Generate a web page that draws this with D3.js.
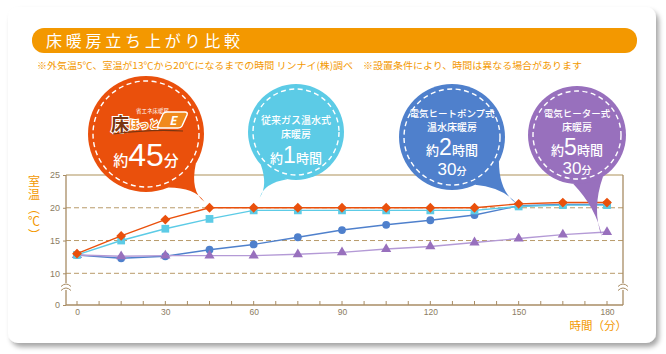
<!DOCTYPE html>
<html>
<head>
<meta charset="utf-8">
<script src="https://cdn.jsdelivr.net/npm/d3@7"></script>
<style>
  body { margin: 0; background: #fff; }
  svg { display: block; font-family: "Noto Sans CJK JP", "Noto Sans", sans-serif; }
</style>
</head>
<body>
<div id="chart"></div>
<script>
// minutes
var times = [0, 15, 30, 45, 60, 75, 90, 105, 120, 135, 150, 165, 180];
var xTicks = [0, 30, 60, 90, 120, 150, 180];
var yTicks = [0, 10, 15, 20, 25];
var gridValues = [10, 15, 20];

// room temperature (℃)
var hotE = [13, 15.7, 18.2, 20, 20, 20, 20, 20, 20, 20, 20.6, 20.8, 20.8];
var gasWater = [12.8, 15.0, 16.8, 18.3, 19.6, 19.6, 19.6, 19.6, 19.6, 19.6, 20.2, 20.4, 20.4];
var heatPump = [12.8, 12.3, 12.6, 13.6, 14.4, 15.5, 16.6, 17.4, 18.1, 18.9, 20.3, 20.5, 20.5];
var elecHeater = [12.8, 12.6, 12.7, 12.7, 12.7, 12.9, 13.2, 13.7, 14.1, 14.7, 15.3, 15.9, 16.3];

var titleText = "床暖房立ち上がり比較";
var noteText = "※外気温5℃、室温が13℃から20℃になるまでの時間 リンナイ(株)調べ　※設置条件により、時間は異なる場合があります";

var W = 666, H = 354;
var orange = "#ea500c", cyan = "#5ccbe6", blue = "#4f80cc", purple = "#9870bd";
var axisCol = "#a88c64", tickText = "#8c7c62", labelCol = "#f39800";
var numFont = "Liberation Sans, Arial, sans-serif";

var svg = d3.select("#chart").append("svg")
    .attr("width", W)
    .attr("height", H);

var defs = svg.append("defs");
var f = defs.append("filter").attr("id", "shadow")
    .attr("x", "-5%").attr("y", "-5%").attr("width", "115%").attr("height", "120%");
f.append("feDropShadow").attr("dx", 3).attr("dy", 4).attr("stdDeviation", 2.5)
    .attr("flood-color", "#000").attr("flood-opacity", 0.35);

// card
svg.append("rect")
    .attr("x", 8).attr("y", 7).attr("width", 648).attr("height", 336)
    .attr("rx", 10)
    .attr("fill", "#fff")
    .attr("filter", "url(#shadow)");

// title bar
svg.append("rect")
    .attr("x", 32).attr("y", 28).attr("width", 605).attr("height", 25)
    .attr("rx", 12)
    .attr("fill", "#f39800");
svg.append("text")
    .attr("x", 46).attr("y", 47)
    .attr("fill", "#fff")
    .attr("textLength", 194)
    .attr("lengthAdjust", "spacing")
    .style("font-size", "16px")
    .text(titleText);
svg.append("text")
    .attr("x", 37).attr("y", 69)
    .attr("fill", labelCol)
    .attr("textLength", 545)
    .attr("lengthAdjust", "spacingAndGlyphs")
    .style("font-size", "9.5px")
    .text(noteText);

// scales
var x = d3.scaleLinear().domain([0, 180]).range([77, 607]);
var y = d3.scaleLinear().domain([0, 10, 25]).range([305, 273.3, 175]);
var left = 66, right = 623;

// grid
svg.append("g").selectAll("line")
    .data(gridValues)
    .join("line")
    .attr("x1", left).attr("x2", right)
    .attr("y1", function (d) { return y(d); })
    .attr("y2", function (d) { return y(d); })
    .attr("stroke", "#b89a6a")
    .attr("stroke-width", 1)
    .attr("stroke-dasharray", "5,3");

// frame
svg.append("line")
    .attr("x1", left).attr("x2", right)
    .attr("y1", y(25)).attr("y2", y(25))
    .attr("stroke", "#d6c8ac").attr("stroke-width", 2);
svg.append("line")
    .attr("x1", left).attr("x2", left)
    .attr("y1", y(25)).attr("y2", y(0))
    .attr("stroke", axisCol).attr("stroke-width", 1.3);
svg.append("line")
    .attr("x1", right).attr("x2", right)
    .attr("y1", y(25)).attr("y2", y(0))
    .attr("stroke", axisCol).attr("stroke-width", 1.3);

// x axis
var xAxis = d3.axisBottom(x)
    .tickValues(xTicks)
    .tickSize(0)
    .tickPadding(4)
    .tickFormat(d3.format("d"));
var xg = svg.append("g")
    .attr("transform", "translate(0," + y(0) + ")")
    .call(xAxis);
xg.select(".domain").remove();
xg.selectAll("text").attr("fill", tickText).style("font-size", "8.5px").style("font-family", numFont);
svg.append("line")
    .attr("x1", left).attr("x2", right)
    .attr("y1", y(0)).attr("y2", y(0))
    .attr("stroke", axisCol).attr("stroke-width", 1.3);
svg.append("g").selectAll("line")
    .data(d3.range(0, 181, 7.5))
    .join("line")
    .attr("x1", function (d) { return x(d); })
    .attr("x2", function (d) { return x(d); })
    .attr("y1", y(0)).attr("y2", y(0) - 4)
    .attr("stroke", axisCol).attr("stroke-width", 1);

// y axis
var yAxis = d3.axisLeft(y)
    .tickValues(yTicks)
    .tickSize(3)
    .tickPadding(3);
var yg = svg.append("g")
    .attr("transform", "translate(" + left + ",0)")
    .call(yAxis);
yg.select(".domain").remove();
yg.selectAll("line").attr("stroke", axisCol);
yg.selectAll("text").attr("fill", tickText).style("font-size", "9px").style("font-family", numFont);

// axis breaks
[left, right].forEach(function (bx) {
    svg.append("rect")
        .attr("x", bx - 4).attr("y", 283).attr("width", 8).attr("height", 7)
        .attr("fill", "#fff");
    [284.5, 288.5].forEach(function (by) {
        svg.append("path")
            .attr("d", "M" + (bx - 5) + "," + (by + 2) + " Q" + bx + "," + (by - 3) + " " + (bx + 5) + "," + (by + 2))
            .attr("fill", "none")
            .attr("stroke", axisCol).attr("stroke-width", 1);
    });
});

// axis titles
svg.append("text")
    .attr("x", 34).attr("y", 175)
    .attr("fill", labelCol)
    .style("font-size", "12px")
    .style("writing-mode", "vertical-rl")
    .style("text-orientation", "upright")
    .style("letter-spacing", "1.5px")
    .text("室温︵℃︶");
svg.append("text")
    .attr("x", 627).attr("y", 330)
    .attr("text-anchor", "end")
    .attr("fill", labelCol)
    .style("font-size", "11.5px")
    .text("時間（分）");

// series
var line = d3.line()
    .x(function (d) { return x(d[0]); })
    .y(function (d) { return y(d[1]); });

function series(values, lineCol, markCol, shape, size, rot) {
    var pts = times.map(function (t, i) { return [t, values[i]]; });
    svg.append("path")
        .datum(pts)
        .attr("d", line)
        .attr("fill", "none")
        .attr("stroke", lineCol)
        .attr("stroke-width", 1.4);
    svg.append("g").selectAll("path")
        .data(pts)
        .join("path")
        .attr("transform", function (d) { return "translate(" + x(d[0]) + "," + y(d[1]) + ") rotate(" + (rot || 0) + ")"; })
        .attr("d", d3.symbol().type(shape).size(size))
        .attr("fill", markCol);
}

series(heatPump, blue, blue, d3.symbolCircle, 48);
series(elecHeater, "#b49ad6", purple, d3.symbolTriangle, 45);
series(gasWater, cyan, cyan, d3.symbolSquare, 60);
series(hotE, orange, orange, d3.symbolSquare, 48, 45);

// speech bubbles
function bubble(cx, cy, r, col, tip) {
    var g = svg.append("g");
    var a = Math.atan2(tip[1] - cy, tip[0] - cx), da = 0.32;
    var p1 = [cx + r * Math.cos(a - da), cy + r * Math.sin(a - da)];
    var p2 = [cx + r * Math.cos(a + da), cy + r * Math.sin(a + da)];
    var mx = (p1[0] + p2[0]) / 2 * 0.5 + tip[0] * 0.5, my = (p1[1] + p2[1]) / 2 * 0.5 + tip[1] * 0.5;
    g.append("path")
        .attr("d", "M" + p1 + " Q" + [mx + (p2[0] - p1[0]) * 0.12, my + (p2[1] - p1[1]) * 0.12] + " " + tip +
            " Q" + [mx - (p2[0] - p1[0]) * 0.05, my - (p2[1] - p1[1]) * 0.05] + " " + p2 + " Z")
        .attr("fill", col);
    g.append("circle").attr("cx", cx).attr("cy", cy).attr("r", r).attr("fill", col);
    g.append("circle").attr("cx", cx).attr("cy", cy).attr("r", r - 5)
        .attr("fill", "none").attr("stroke", "#fff")
        .attr("stroke-width", 1.4).attr("stroke-dasharray", "5,3.5");
    return g;
}

// parts: [text, size, isNumber]
function txt(g, cx, yy, parts) {
    var t = g.append("text")
        .attr("x", cx).attr("y", yy)
        .attr("text-anchor", "middle")
        .attr("fill", "#fff");
    parts.forEach(function (p) {
        var s = t.append("tspan")
            .style("font-size", p[1] + "px")
            .style("font-weight", "500")
            .text(p[0]);
        if (p[2]) s.style("font-family", numFont).style("font-weight", "400");
    });
}

// 床ほっとE
var b1 = bubble(146, 134, 58, orange, [x(45) - 5, y(20) - 6]);
b1.append("text").attr("x", 136).attr("y", 113).attr("fill", "#fff")
    .style("font-size", "5.5px").text("省エネ床暖房");
b1.append("text").attr("x", 111).attr("y", 131)
    .attr("fill", "#7a3510").attr("stroke", "#fff").attr("stroke-width", 2.2).attr("paint-order", "stroke")
    .style("font-size", "18px").style("font-weight", "bold").text("床");
b1.append("text").attr("x", 129).attr("y", 129)
    .attr("fill", "#f08a1c").attr("stroke", "#fff").attr("stroke-width", 2.2).attr("paint-order", "stroke")
    .attr("textLength", 30).attr("lengthAdjust", "spacingAndGlyphs")
    .style("font-size", "11px").style("font-weight", "bold").text("ほっと");
b1.append("path")
    .attr("d", "M167,112 L185,112 Q188,112 187,115 L182,126 Q181,128 178,128 L160,128 Q157,128 158,125 L163,114 Q164,112 167,112 Z")
    .attr("fill", "#f08a1c").attr("stroke", "#fff").attr("stroke-width", 1.5);
b1.append("text").attr("x", 173).attr("y", 125).attr("text-anchor", "middle")
    .attr("fill", "#fff").style("font-size", "12px").style("font-weight", "bold").style("font-style", "italic").text("E");
b1.append("path")
    .attr("d", "M113,134 Q150,129 183,131")
    .attr("fill", "none").attr("stroke", "#7a3510").attr("stroke-width", 1.2);
txt(b1, 146, 166, [["約", 15], ["45", 32, true], ["分", 15]]);

// 従来ガス温水式
var b2 = bubble(296, 132, 48, cyan, [x(60) + 6, y(20) - 10]);
txt(b2, 296, 124, [["従来ガス温水式", 10]]);
txt(b2, 296, 138, [["床暖房", 10]]);
txt(b2, 296, 163, [["約", 13], ["1", 23, true], ["時間", 13]]);

// 電気ヒートポンプ式
var b3 = bubble(452, 137, 53, blue, [x(150) - 2, y(20.3) - 2]);
txt(b3, 452, 117, [["電気ヒートポンプ式", 9.5]]);
txt(b3, 452, 131, [["温水床暖房", 10]]);
txt(b3, 452, 155, [["約", 13], ["2", 23, true], ["時間", 13]]);
txt(b3, 452, 175, [["30", 17, true], ["分", 10]]);

// 電気ヒーター式
var b4 = bubble(577, 135, 49, purple, [x(180) - 5, y(16.3) + 5]);
txt(b4, 577, 117, [["電気ヒーター式", 9.5]]);
txt(b4, 577, 131, [["床暖房", 10]]);
txt(b4, 577, 155, [["約", 13], ["5", 23, true], ["時間", 13]]);
txt(b4, 577, 174, [["30", 17, true], ["分", 10]]);
</script>
</body>
</html>
